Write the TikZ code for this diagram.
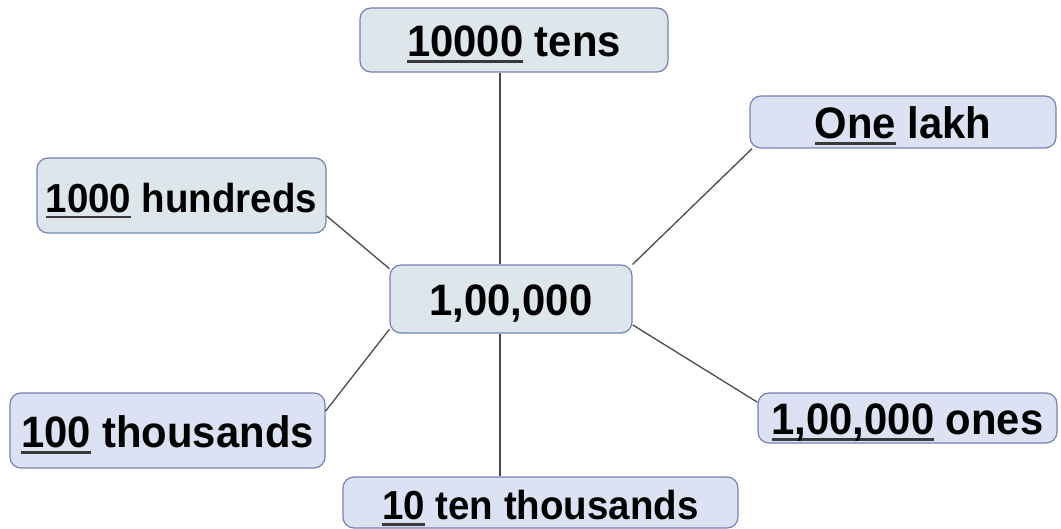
\documentclass[tikz,border=0pt]{standalone}
\usepackage{fontspec}
\setmainfont{Liberation Sans}[FakeStretch=0.95]
\definecolor{fillg}{HTML}{DDE6EA}
\definecolor{fillv}{HTML}{DDE1F4}
\definecolor{edgec}{HTML}{7482B6}
\definecolor{linec}{HTML}{4A4A4A}
\definecolor{ulc}{HTML}{3A3A3A}
\newcommand\ulnum[1]{\setbox0=\hbox{#1}\rlap{\textcolor{ulc}{\rule[-6pt]{\wd0}{2.8pt}}}\box0\relax}
\tikzset{
  box/.style={draw=edgec, line width=1.2pt, rounded corners=11pt, inner sep=0pt,
    text height=36pt, text depth=2pt, font=\bfseries\fontsize{44}{50}\selectfont},
  boxg/.style={box, fill=fillg},
  boxv/.style={box, fill=fillv},
  small/.style={font=\bfseries\fontsize{40.5}{46}\selectfont},
  conn/.style={draw=linec, line width=1.3pt}
}
\begin{document}
\begin{tikzpicture}[x=1pt,y=-1pt]
\useasboundingbox (0,0) rectangle (1061,529);
\node[boxg, minimum width=308pt, minimum height=64pt] (top) at (514,40) {\ulnum{10000} tens};
\node[boxg, minimum width=242pt, minimum height=68pt] (ctr) at (511,299) {1,00,000};
\node[boxv, minimum width=306pt, minimum height=52pt] (lakh) at (903,122) {\ulnum{One} lakh};
\node[boxg, small, minimum width=289pt, minimum height=75pt] (hund) at (181.5,195.5) {\ulnum{1000} hundreds};
\node[boxv, minimum width=315pt, minimum height=75pt] (thou) at (167.5,430.5) {\ulnum{100} thousands};
\node[boxv, small, minimum width=395pt, minimum height=51pt] (bot) at (540.5,502.5) {\ulnum{10} ten thousands};
\node[boxv, minimum width=299pt, minimum height=50pt] (ones) at (907.5,418) {\ulnum{1,00,000} ones};
\draw[conn] ([xshift=-14pt]top.south) -- ([xshift=-11pt]ctr.north);
\draw[conn] ([xshift=-11pt]ctr.south) -- ([xshift=-40.5pt]bot.north);
\draw[conn] (hund.-8) -- (ctr.166);
\draw[conn] (thou.7) -- (ctr.194);
\draw[conn] (lakh.190) -- (ctr.north east);
\draw[conn] (ones.174) -- (ctr.-12);
\end{tikzpicture}
\end{document}
